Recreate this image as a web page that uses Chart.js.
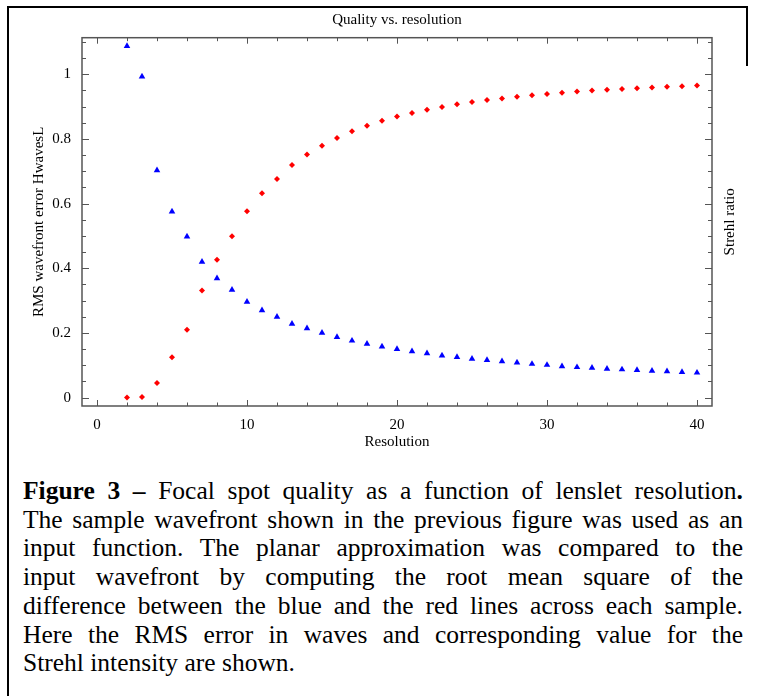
<!DOCTYPE html>
<html><head><meta charset="utf-8">
<script src="https://cdn.jsdelivr.net/npm/chart.js@4"></script>
<style>
html,body{margin:0;padding:0;background:#fff;}
#wrap{position:relative;width:757px;height:696px;overflow:hidden;background:#fff;}
#c{position:absolute;left:0;top:0;}
.bl{position:absolute;left:7px;top:6px;width:2px;height:690px;background:#000;}
.bt{position:absolute;left:7px;top:6px;width:741px;height:2px;background:#000;}
.br{position:absolute;left:746px;top:6px;width:2px;height:60px;background:#000;}
#cap{position:absolute;left:23px;top:477px;width:720px;font-family:"Liberation Serif","Times New Roman",serif;font-size:25.5px;line-height:28.7px;color:#000;}
#cap div{text-align:justify;text-align-last:justify;}
#cap div.last{text-align-last:left;}
</style></head>
<body>
<div id="wrap">
<canvas id="c" width="757" height="460"></canvas>
<div class="bl"></div><div class="bt"></div><div class="br"></div>
<div id="cap">
<div><b>Figure 3 –</b> Focal spot quality as a function of lenslet resolution<b>.</b></div>
<div>The sample wavefront shown in the previous figure was used as an</div>
<div>input function. The planar approximation was compared to the</div>
<div>input wavefront by computing the root mean square of the</div>
<div>difference between the blue and the red lines across each sample.</div>
<div>Here the RMS error in waves and corresponding value for the</div>
<div class="last">Strehl intensity are shown.</div>
</div>
</div>
<script>
const FONT = '"Liberation Serif","Times New Roman",serif';
const chartTitle = 'Quality vs. resolution';
const xTitle = 'Resolution';
const yTitle = 'RMS wavefront error HwavesL';
const y2Title = 'Strehl ratio';

const resolution = [2,3,4,5,6,7,8,9,10,11,12,13,14,15,16,17,18,19,20,21,22,23,24,25,26,27,28,29,30,31,32,33,34,35,36,37,38,39,40];
const rmsError = [1.087,0.993,0.703,0.575,0.498,0.420,0.369,0.333,0.296,0.270,0.250,0.228,0.214,0.200,0.187,0.176,0.166,0.158,0.150,0.143,0.137,0.130,0.125,0.120,0.116,0.112,0.108,0.104,0.101,0.097,0.094,0.092,0.089,0.087,0.085,0.083,0.081,0.079,0.077];
const strehl = [0.000,0.002,0.045,0.125,0.210,0.331,0.426,0.499,0.576,0.632,0.676,0.719,0.752,0.779,0.803,0.824,0.841,0.856,0.869,0.880,0.890,0.899,0.907,0.914,0.920,0.925,0.930,0.935,0.939,0.943,0.947,0.950,0.952,0.954,0.957,0.959,0.961,0.963,0.965];

const xTicks = [0,10,20,30,40];
const xTickLabels = ['0','10','20','30','40'];
const yTicks = [0,0.2,0.4,0.6,0.8,1];
const yTickLabels = ['0','0.2','0.4','0.6','0.8','1'];
const xMinorTicks = [0,2,4,6,8,10,12,14,16,18,20,22,24,26,28,30,32,34,36,38,40];
const yMinorTicks = [0,0.05,0.1,0.15,0.2,0.25,0.3,0.35,0.4,0.45,0.5,0.55,0.6,0.65,0.7,0.75,0.8,0.85,0.9,0.95,1,1.05,1.1];

const frameColor = '#555';

const framePlugin = {
  id: 'frame',
  beforeDatasetsDraw(chart) {
    const ctx = chart.ctx, ca = chart.chartArea;
    const xs = chart.scales.x, ys = chart.scales.y;
    ctx.save();
    ctx.strokeStyle = frameColor;
    ctx.lineWidth = 1;
    ctx.beginPath();
    xMinorTicks.forEach(v => {
      const px = Math.round(xs.getPixelForValue(v)) + 0.5;
      const len = xTicks.includes(v) ? 6 : 3.5;
      ctx.moveTo(px, ca.bottom); ctx.lineTo(px, ca.bottom - len);
      ctx.moveTo(px, ca.top); ctx.lineTo(px, ca.top + len);
    });
    yMinorTicks.forEach((v, i) => {
      const py = Math.round(ys.getPixelForValue(v)) + 0.5;
      const len = (i % 4 === 0) ? 7 : 4;
      ctx.moveTo(ca.left, py); ctx.lineTo(ca.left + len, py);
      ctx.moveTo(ca.right, py); ctx.lineTo(ca.right - len, py);
    });
    ctx.stroke();
    ctx.lineWidth = 1.5;
    ctx.strokeRect(ca.left, ca.top, ca.right - ca.left, ca.bottom - ca.top);
    ctx.restore();
  },
  afterDraw(chart) {
    const ctx = chart.ctx, ca = chart.chartArea;
    ctx.save();
    ctx.translate(730, (ca.top + ca.bottom) / 2);
    ctx.rotate(-Math.PI / 2);
    ctx.fillStyle = '#000';
    ctx.font = '15px ' + FONT;
    ctx.textAlign = 'center';
    ctx.textBaseline = 'middle';
    ctx.fillText(y2Title, 0, 0);
    ctx.restore();
  }
};

new Chart(document.getElementById('c'), {
  type: 'scatter',
  data: {
    datasets: [
      {label: 'RMS wavefront error', data: resolution.map((r, i) => ({x: r, y: rmsError[i]})),
       pointStyle: 'triangle', radius: 3.8, backgroundColor: '#0000ff', borderColor: '#0000ff', borderWidth: 0},
      {label: 'Strehl ratio', data: resolution.map((r, i) => ({x: r, y: strehl[i]})),
       pointStyle: 'rectRot', radius: 3, backgroundColor: '#ff0000', borderColor: '#ff0000', borderWidth: 0}
    ]
  },
  options: {
    responsive: false, animation: false, devicePixelRatio: 1,
    layout: {padding: {left: 0, right: 45, top: 0, bottom: 0}},
    plugins: {
      legend: {display: false}, tooltip: {enabled: false},
      title: {display: true, text: chartTitle, fullSize: false, color: '#000',
              font: {family: FONT, size: 15, weight: 'normal', lineHeight: 1.2},
              padding: {top: 11, bottom: 8.7}}
    },
    scales: {
      x: {
        type: 'linear', position: 'bottom', min: -1, max: 41,
        afterBuildTicks: s => { s.ticks = xTicks.map(v => ({value: v})); },
        afterFit: s => { s.height = 54; },
        ticks: {color: '#000', font: {family: FONT, size: 15}, padding: 10, maxRotation: 0, autoSkip: false,
                callback: (v, i) => xTickLabels[i]},
        grid: {display: false, drawTicks: false}, border: {display: false},
        title: {display: true, text: xTitle, color: '#000', font: {family: FONT, size: 15}, padding: {top: 0, bottom: 9}}
      },
      y: {
        type: 'linear', position: 'left', min: -0.026, max: 1.113,
        afterBuildTicks: s => { s.ticks = yTicks.map(v => ({value: v})); },
        afterFit: s => { s.width = 82; },
        ticks: {color: '#000', font: {family: FONT, size: 15}, padding: 11, autoSkip: false,
                callback: (v, i) => yTickLabels[i]},
        grid: {display: false, drawTicks: false}, border: {display: false},
        title: {display: true, text: yTitle, color: '#000', font: {family: FONT, size: 15}, padding: {top: 30, bottom: 0}}
      }
    }
  },
  plugins: [framePlugin]
});
</script>
</body></html>
